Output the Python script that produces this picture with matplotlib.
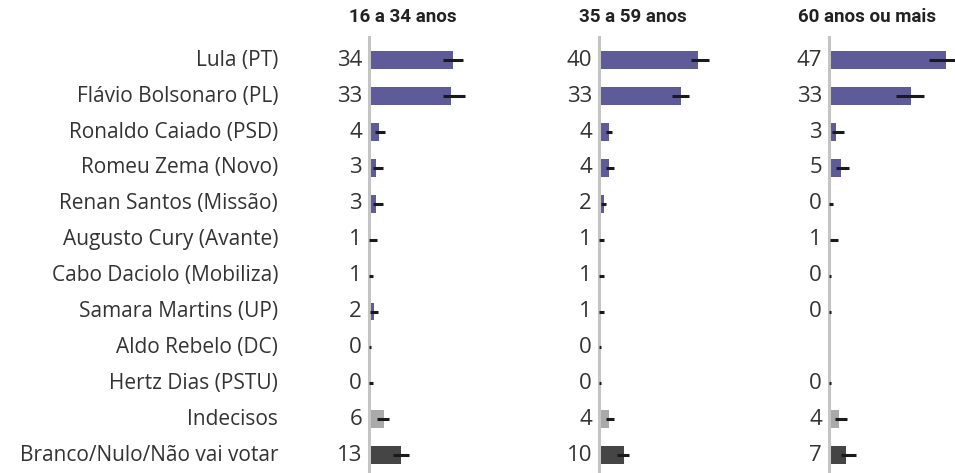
import numpy as np
import matplotlib.pyplot as plt

plt.rcParams['font.family'] = ['Open Sans', 'DejaVu Sans']

# Categories and panels
categories = ["Lula (PT)", "Flávio Bolsonaro (PL)", "Ronaldo Caiado (PSD)",
              "Romeu Zema (Novo)", "Renan Santos (Missão)", "Augusto Cury (Avante)",
              "Cabo Daciolo (Mobiliza)", "Samara Martins (UP)", "Aldo Rebelo (DC)",
              "Hertz Dias (PSTU)", "Indecisos", "Branco/Nulo/Não vai votar"]
groups = ["16 a 34 anos", "35 a 59 anos", "60 anos ou mais"]

# Percent values (nan = not shown)
vals_16_34 = [34, 33, 4, 3, 3, 1, 1, 2, 0, 0, 6, 13]
vals_35_59 = [40, 33, 4, 4, 2, 1, 1, 1, 0, 0, 4, 10]
vals_60 = [47, 33, 3, 5, 0, 1, 0, 0, np.nan, 0, 4, 7]

# Confidence interval bounds
lo_16_34 = [29.8, 29.8, 2.4, 1.6, 1.6, 0.2, 0.0, 0.5, 0.0, 0.0, 3.2, 9.7]
hi_16_34 = [37.9, 38.7, 6.5, 5.6, 5.6, 3.2, 1.6, 3.7, 1.0, 1.5, 8.1, 16.1]
lo_35_59 = [37.1, 29.4, 2.7, 2.7, 1.0, 0.2, 0.2, 0.2, 0.0, 0.0, 2.7, 7.3]
hi_35_59 = [44.4, 36.3, 5.4, 6.2, 2.8, 2.0, 2.0, 2.0, 0.8, 0.8, 6.0, 12.1]
lo_60 = [40.3, 27.0, 1.1, 2.7, 0.0, 0.4, 0.0, 0.0, np.nan, 0.0, 2.4, 4.8]
hi_60 = [54.0, 38.3, 6.0, 8.2, 1.5, 3.6, 0.8, 1.0, np.nan, 0.8, 7.1, 10.8]

purple = "#5f5b98"
bar_colors = [purple] * 10 + ["#aaaaaa", "#454545"]

panels = [(vals_16_34, lo_16_34, hi_16_34),
          (vals_35_59, lo_35_59, hi_35_59),
          (vals_60, lo_60, hi_60)]

W, H = 955, 473
fig = plt.figure(figsize=(W / 100, H / 100), dpi=100)

axis_x = [369, 599, 829]   # pixel position of each panel's zero line
px_per_unit = 2.48
xmax = 52
top_px, bot_px = 37, 473
y = np.arange(len(categories))

for k, (vals, lo, hi) in enumerate(panels):
    left = axis_x[k] / W
    width = xmax * px_per_unit / W
    ax = fig.add_axes([left, 1 - bot_px / H, width, (bot_px - top_px) / H])
    ax.set_xlim(0, xmax)
    ax.set_ylim(11.5, -0.65)

    v = np.array(vals, dtype=float)
    ax.barh(y, v, height=0.5, color=bar_colors, clip_on=False)
    for i in range(len(categories)):
        if np.isnan(v[i]):
            continue
        ax.plot([lo[i], hi[i]], [y[i], y[i]], color="#1a1a1a", lw=2.2,
                solid_capstyle="butt", clip_on=False, zorder=3)
        ax.annotate(f"{int(v[i])}", (0, y[i]), xytext=(-7, 0),
                    textcoords="offset pixels", ha="right", va="center",
                    fontsize=16, color="#333333")

    for s in ["top", "right", "bottom"]:
        ax.spines[s].set_visible(False)
    ax.spines["left"].set_color("#c4c4c4")
    ax.spines["left"].set_linewidth(2.2)
    ax.set_xticks([])
    ax.set_yticks([])
    ax.patch.set_alpha(0)

    ax.text(13.5 if k < 2 else 15.5, 1 + 20 / (bot_px - top_px), groups[k],
            transform=ax.get_xaxis_transform(), ha="center", va="center",
            fontsize=13.5, fontweight="bold", color="#222222",
            family=['Roboto', 'DejaVu Sans'])

    if k == 0:
        for i, c in enumerate(categories):
            ax.annotate(c, (0, y[i]), xytext=(278 - axis_x[0], 0),
                        textcoords="offset pixels", ha="right", va="center",
                        fontsize=15, color="#333333", annotation_clip=False)

fig.savefig("out.png", dpi=100)
